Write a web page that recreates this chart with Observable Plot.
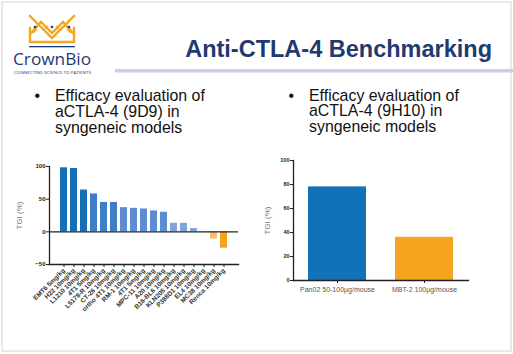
<!DOCTYPE html>
<html>
<head>
<meta charset="utf-8">
<script src="https://cdn.jsdelivr.net/npm/d3@7"></script>
<script src="https://cdn.jsdelivr.net/npm/@observablehq/plot@0.6"></script>
<style>
  html, body { margin: 0; padding: 0; background: #ffffff; }
  #slide { position: relative; width: 513px; height: 354px; overflow: hidden; background: #fff; font-family: "Liberation Sans", Arial, sans-serif; }
  #deco { position: absolute; left: 0; top: 0; }
  #left { position: absolute; left: 0; top: 150px; }
  #right { position: absolute; left: 250px; top: 145px; }
  .bullet, .btext { position: absolute; font-family: "Liberation Sans", Arial, sans-serif; font-size: 15.9px; line-height: 15.6px; color: #111; white-space: nowrap; margin: 0; }
</style>
</head>
<body>
<div id="slide">
  <svg id="deco" width="513" height="354">
    <rect x="2" y="2" width="509" height="349" fill="none" stroke="#e2e2e2" stroke-width="1.5"/>
    <!-- crown logo -->
    <g stroke="#f5a623" stroke-width="2.4" fill="none" stroke-linecap="square">
      <path d="M30,16 L52,38 L74,16"/>
      <path d="M30,34 L41,22 L52,33 L63,22 L74,34"/>
      <path d="M30,28 L30,42 L74,42 L74,28"/>
    </g>
    <g stroke="#f5a623" stroke-width="1.6">
      <path d="M33,33 L37,29 M48,26 L45,29 M56,26 L59,29 M67,29 L71,33"/>
    </g>
    <g fill="#1f3a7a">
      <circle cx="35" cy="27" r="1.3"/>
      <circle cx="52" cy="27" r="1.3"/>
      <circle cx="69" cy="27" r="1.3"/>
    </g>
    <rect x="29" y="46" width="46" height="1.3" fill="#1f3a7a"/>
    <text x="13" y="65" font-family="'Open Sans', sans-serif" font-size="16" fill="#1f3a7a" textLength="78" lengthAdjust="spacingAndGlyphs">CrownBio</text>
    <text x="14" y="73.6" font-family="'Open Sans', sans-serif" font-size="3.2" fill="#1f3a7a" textLength="77" lengthAdjust="spacingAndGlyphs">CONNECTING SCIENCE TO PATIENTS</text>
    <!-- title -->
    <text id="title" x="492" y="57" text-anchor="end" font-family="'Liberation Sans', Arial, sans-serif" font-weight="bold" font-size="23.5" fill="#1f3a70">Anti-CTLA-4 Benchmarking</text>
    <rect x="115" y="69" width="398" height="3.5" fill="#c9d0e2"/>
  </svg>
  <div class="bullet" style="left:34.5px; top:88.4px;">•</div>
  <div class="btext" style="left:55px; top:88.4px;">Efficacy evaluation of<br>aCTLA-4 (9D9) in<br>syngeneic models</div>
  <div class="bullet" style="left:288.5px; top:87.9px;">•</div>
  <div class="btext" style="left:309px; top:87.9px;">Efficacy evaluation of<br>aCTLA-4 (9H10) in<br>syngeneic models</div>
  <div id="left"></div>
  <div id="right"></div>
</div>
<script>
// ---- Data: aCTLA-4 (9D9) ----
const models9D9 = [
  "EMT6 5mg/kg", "H22 10mg/kg", "L1210 10mg/kg", "4T1 5mg/kg", "L5178-R 10mg/kg",
  "CT-26 10mg/kg", "ortho 4T1 10mg/kg", "RM-1 10mg/kg", "4T1 5mg/kg", "MPC-11 10mg/kg",
  "A20 10mg/kg", "B16-BL6 10mg/kg", "KLN205 10mg/kg", "P388D1 10mg/kg", "EL4 10mg/kg",
  "MC38 10mg/kg", "Renca 10mg/kg"
];
const tgi9D9 = [98, 97, 64, 58, 45, 45, 37, 36, 35, 32, 30, 13, 13, 5, 0, -11, -25];
const yTicks9D9 = [-50, 0, 50, 100];

// ---- Data: aCTLA-4 (9H10) ----
const models9H10 = ["Pan02 50-100µg/mouse", "MBT-2 100µg/mouse"];
const tgi9H10 = [78, 36];
const yTicks9H10 = [0, 20, 40, 60, 80, 100];

const font = "'Liberation Sans', Arial, sans-serif";

const data9D9 = models9D9.map((m, i) => ({i, model: m, tgi: tgi9D9[i]}));
const left = Plot.plot({
  width: 250, height: 190,
  marginLeft: 49, marginRight: 12, marginTop: 16, marginBottom: 76,
  style: {fontFamily: font, background: "transparent", overflow: "visible", color: "#222"},
  x: {type: "band", domain: data9D9.map(d => d.i), padding: 0.28},
  y: {domain: [-50, 100]},
  color: {type: "threshold", domain: [-20, 0, 20, 40, 60],
          range: ["#f6a21c", "#f9bf6c", "#7ea6dc", "#5b8dd0", "#3c7fc6", "#1570b8"]},
  marks: [
    Plot.barY(data9D9, {x: "i", y: "tgi", fill: "tgi"}),
    Plot.ruleY([0], {stroke: "#222", strokeWidth: 1.3}),
    Plot.frame({anchor: "left", stroke: "#222", strokeWidth: 1.3}),
    Plot.frame({anchor: "bottom", stroke: "#222", strokeWidth: 1.3}),
    Plot.axisY({ticks: yTicks9D9, tickSize: 3, tickPadding: 1, fontSize: 6, fontWeight: "bold",
                label: "TGI (%)", labelAnchor: "center", labelArrow: "none", labelOffset: 33}),
    Plot.axisX({tickRotate: -45, tickFormat: i => models9D9[i], tickSize: 3, tickPadding: 2,
                fontSize: 6.5, fontWeight: "bold", fill: "#333", label: null})
  ]
});
left.querySelectorAll("g[aria-label='y-axis label']").forEach(e => {
  e.setAttribute("font-size", "8"); e.setAttribute("font-weight", "normal"); e.setAttribute("fill", "#777");
});
document.getElementById("left").appendChild(left);

const data9H10 = models9H10.map((m, i) => ({model: m, tgi: tgi9H10[i]}));
const right = Plot.plot({
  width: 250, height: 160,
  marginLeft: 43, marginRight: 32, marginTop: 15, marginBottom: 25,
  style: {fontFamily: font, background: "transparent", overflow: "visible", color: "#222"},
  x: {domain: models9H10, paddingInner: 0.335, paddingOuter: 0.165},
  y: {domain: [0, 100]},
  color: {domain: models9H10, range: ["#1272b9", "#f6a31f"]},
  marks: [
    Plot.barY(data9H10, {x: "model", y: "tgi", fill: "model"}),
    Plot.frame({anchor: "left", stroke: "#222", strokeWidth: 1.3}),
    Plot.frame({anchor: "bottom", stroke: "#222", strokeWidth: 1.3}),
    Plot.axisY({ticks: yTicks9H10, tickSize: 3, tickPadding: 1, fontSize: 5.5, fontWeight: "bold",
                label: "TGI (%)", labelAnchor: "center", labelArrow: "none", labelOffset: 29}),
    Plot.axisX({tickSize: 3, tickPadding: 4, fontSize: 7, fill: "#555", label: null})
  ]
});
right.querySelectorAll("g[aria-label='y-axis label']").forEach(e => {
  e.setAttribute("font-size", "8"); e.setAttribute("font-weight", "normal"); e.setAttribute("fill", "#777");
});
document.getElementById("right").appendChild(right);
</script>
</body>
</html>
